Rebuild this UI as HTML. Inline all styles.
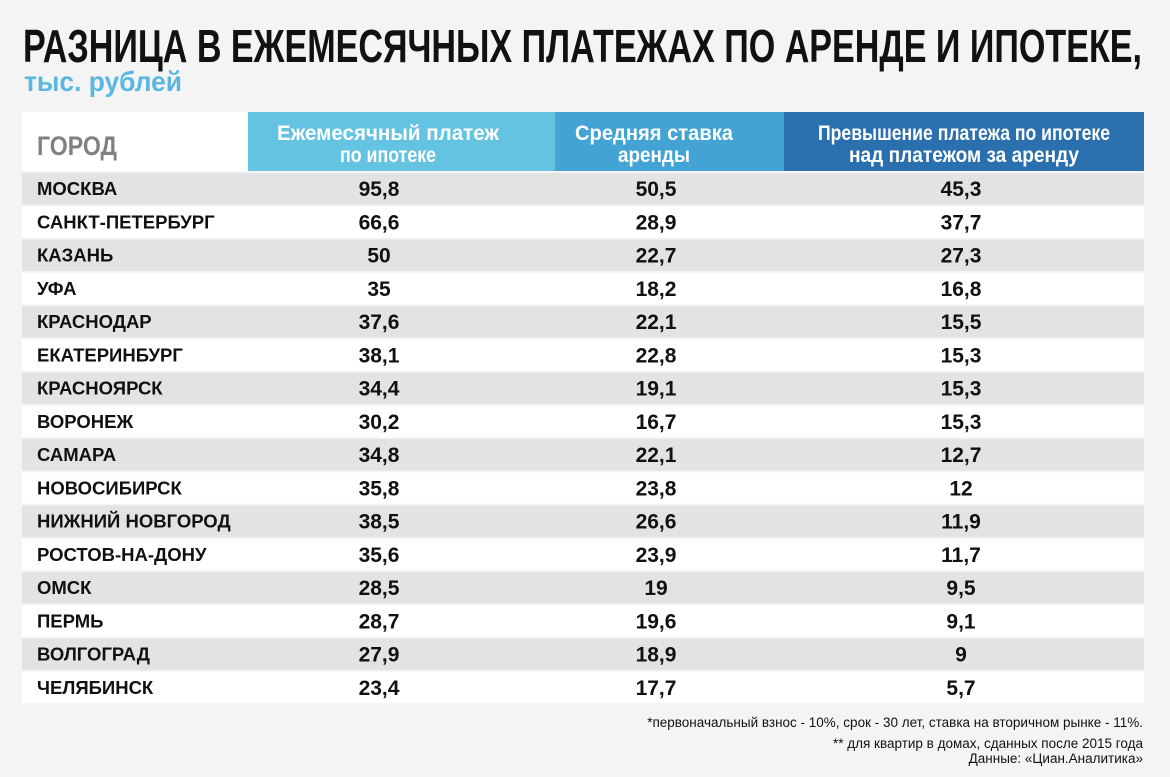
<!DOCTYPE html>
<html><head><meta charset="utf-8"><style>
body{margin:0;background:#f4f4f4;}
svg{display:block;font-family:"Liberation Sans","DejaVu Sans",sans-serif;}
.c{font-size:18.5px;font-weight:bold;fill:#111;}
.n{font-size:21px;font-weight:bold;fill:#111;text-anchor:middle;}
</style></head><body>
<svg width="1170" height="777" viewBox="0 0 1170 777" xmlns="http://www.w3.org/2000/svg">
<rect width="1170" height="777" fill="#f4f4f4"/>
<text x="23" y="62" font-size="46" font-weight="bold" fill="#111" textLength="1119" lengthAdjust="spacingAndGlyphs">РАЗНИЦА В ЕЖЕМЕСЯЧНЫХ ПЛАТЕЖАХ ПО АРЕНДЕ И ИПОТЕКЕ,</text>
<text x="24" y="91" font-size="28" font-weight="bold" fill="#5ab8e0" textLength="158" lengthAdjust="spacingAndGlyphs">тыс. рублей</text>
<rect x="22" y="112" width="226" height="59" fill="#fff"/>
<rect x="248" y="112" width="307" height="59" fill="#64c3e0"/>
<rect x="555" y="112" width="229" height="59" fill="#44a3d5"/>
<rect x="784" y="112" width="360" height="59" fill="#2a70ae"/>
<text x="37" y="155" font-size="27" font-weight="bold" fill="#808080" textLength="80" lengthAdjust="spacingAndGlyphs">ГОРОД</text>
<g font-size="21" font-weight="bold" fill="#fff" text-anchor="middle">
<text x="388" y="140" textLength="222" lengthAdjust="spacingAndGlyphs">Ежемесячный платеж</text>
<text x="388" y="162" textLength="96" lengthAdjust="spacingAndGlyphs">по ипотеке</text>
<text x="654" y="140" textLength="158" lengthAdjust="spacingAndGlyphs">Средняя ставка</text>
<text x="654" y="162" textLength="72" lengthAdjust="spacingAndGlyphs">аренды</text>
<text x="964" y="140" textLength="292" lengthAdjust="spacingAndGlyphs">Превышение платежа по ипотеке</text>
<text x="964" y="162" textLength="230" lengthAdjust="spacingAndGlyphs">над платежом за аренду</text>
</g>

<g transform="translate(0,172)"><rect x="22" y="1" width="1122" height="31.5" fill="#e3e3e3"/><text class="c" x="37" y="23">МОСКВА</text><text class="n" x="379" y="24">95,8</text><text class="n" x="656" y="24">50,5</text><text class="n" x="961" y="24">45,3</text></g>
<g transform="translate(0,205.25)"><rect x="22" y="1" width="1122" height="31.5" fill="#fff"/><text class="c" x="37" y="23">САНКТ-ПЕТЕРБУРГ</text><text class="n" x="379" y="24">66,6</text><text class="n" x="656" y="24">28,9</text><text class="n" x="961" y="24">37,7</text></g>
<g transform="translate(0,238.5)"><rect x="22" y="1" width="1122" height="31.5" fill="#e3e3e3"/><text class="c" x="37" y="23">КАЗАНЬ</text><text class="n" x="379" y="24">50</text><text class="n" x="656" y="24">22,7</text><text class="n" x="961" y="24">27,3</text></g>
<g transform="translate(0,271.75)"><rect x="22" y="1" width="1122" height="31.5" fill="#fff"/><text class="c" x="37" y="23">УФА</text><text class="n" x="379" y="24">35</text><text class="n" x="656" y="24">18,2</text><text class="n" x="961" y="24">16,8</text></g>
<g transform="translate(0,305)"><rect x="22" y="1" width="1122" height="31.5" fill="#e3e3e3"/><text class="c" x="37" y="23">КРАСНОДАР</text><text class="n" x="379" y="24">37,6</text><text class="n" x="656" y="24">22,1</text><text class="n" x="961" y="24">15,5</text></g>
<g transform="translate(0,338.25)"><rect x="22" y="1" width="1122" height="31.5" fill="#fff"/><text class="c" x="37" y="23">ЕКАТЕРИНБУРГ</text><text class="n" x="379" y="24">38,1</text><text class="n" x="656" y="24">22,8</text><text class="n" x="961" y="24">15,3</text></g>
<g transform="translate(0,371.5)"><rect x="22" y="1" width="1122" height="31.5" fill="#e3e3e3"/><text class="c" x="37" y="23">КРАСНОЯРСК</text><text class="n" x="379" y="24">34,4</text><text class="n" x="656" y="24">19,1</text><text class="n" x="961" y="24">15,3</text></g>
<g transform="translate(0,404.75)"><rect x="22" y="1" width="1122" height="31.5" fill="#fff"/><text class="c" x="37" y="23">ВОРОНЕЖ</text><text class="n" x="379" y="24">30,2</text><text class="n" x="656" y="24">16,7</text><text class="n" x="961" y="24">15,3</text></g>
<g transform="translate(0,438)"><rect x="22" y="1" width="1122" height="31.5" fill="#e3e3e3"/><text class="c" x="37" y="23">САМАРА</text><text class="n" x="379" y="24">34,8</text><text class="n" x="656" y="24">22,1</text><text class="n" x="961" y="24">12,7</text></g>
<g transform="translate(0,471.25)"><rect x="22" y="1" width="1122" height="31.5" fill="#fff"/><text class="c" x="37" y="23">НОВОСИБИРСК</text><text class="n" x="379" y="24">35,8</text><text class="n" x="656" y="24">23,8</text><text class="n" x="961" y="24">12</text></g>
<g transform="translate(0,504.5)"><rect x="22" y="1" width="1122" height="31.5" fill="#e3e3e3"/><text class="c" x="37" y="23">НИЖНИЙ НОВГОРОД</text><text class="n" x="379" y="24">38,5</text><text class="n" x="656" y="24">26,6</text><text class="n" x="961" y="24">11,9</text></g>
<g transform="translate(0,537.75)"><rect x="22" y="1" width="1122" height="31.5" fill="#fff"/><text class="c" x="37" y="23">РОСТОВ-НА-ДОНУ</text><text class="n" x="379" y="24">35,6</text><text class="n" x="656" y="24">23,9</text><text class="n" x="961" y="24">11,7</text></g>
<g transform="translate(0,571)"><rect x="22" y="1" width="1122" height="31.5" fill="#e3e3e3"/><text class="c" x="37" y="23">ОМСК</text><text class="n" x="379" y="24">28,5</text><text class="n" x="656" y="24">19</text><text class="n" x="961" y="24">9,5</text></g>
<g transform="translate(0,604.25)"><rect x="22" y="1" width="1122" height="31.5" fill="#fff"/><text class="c" x="37" y="23">ПЕРМЬ</text><text class="n" x="379" y="24">28,7</text><text class="n" x="656" y="24">19,6</text><text class="n" x="961" y="24">9,1</text></g>
<g transform="translate(0,637.5)"><rect x="22" y="1" width="1122" height="31.5" fill="#e3e3e3"/><text class="c" x="37" y="23">ВОЛГОГРАД</text><text class="n" x="379" y="24">27,9</text><text class="n" x="656" y="24">18,9</text><text class="n" x="961" y="24">9</text></g>
<g transform="translate(0,670.75)"><rect x="22" y="1" width="1122" height="31.5" fill="#fff"/><text class="c" x="37" y="23">ЧЕЛЯБИНСК</text><text class="n" x="379" y="24">23,4</text><text class="n" x="656" y="24">17,7</text><text class="n" x="961" y="24">5,7</text></g>

<g font-size="13.5" fill="#111" text-anchor="end">
<text x="1143" y="727">*первоначальный взнос - 10%, срок - 30 лет, ставка на вторичном рынке - 11%.</text>
<text x="1143" y="748">** для квартир в домах, сданных после 2015 года</text>
<text x="1143" y="763">Данные: «Циан.Аналитика»</text>
</g>
</svg>
</body></html>
